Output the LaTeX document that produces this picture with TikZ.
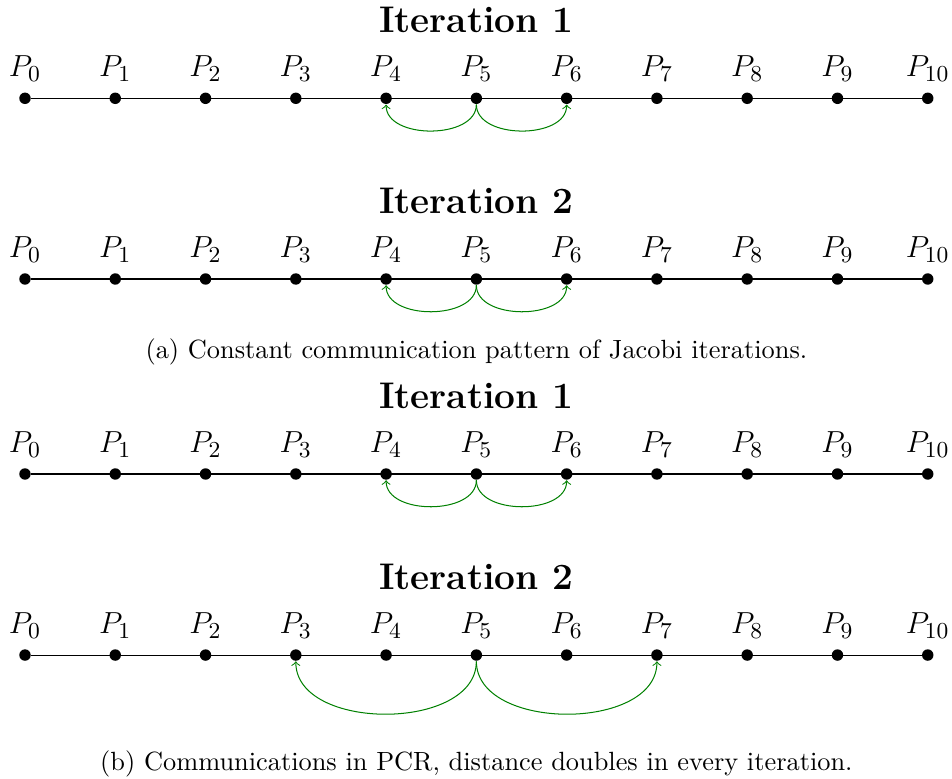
\documentclass[tikz,border=0pt]{standalone}

\begin{document}
\begin{tikzpicture}[proc/.style = {circle, fill, inner sep=0pt, minimum size=4.5pt},
		comm/.style = {->, green!50!black},
		title/.style = {font=\fontsize{14.6}{17}\selectfont\bfseries},
		caption/.style = {font=\fontsize{10.38}{12.5}\selectfont}]
	\useasboundingbox (-0.346,-9.412) rectangle (12.836,1.361);

	% processes of each iteration, one row per iteration
	\foreach \r/\y in {a/0, b/-2.502, c/-5.202, d/-7.709} {
		\foreach \i in {0,...,10}
			\node[proc, label={[inner sep=2pt, label distance=2pt, font=\fontsize{12.45}{15}\selectfont]above:$P_{\i}$}] (\r\i) at (1.25*\i,\y) {};
		\draw (\r0) -- (\r10);
	}

	\node[title] (ta) at (6.25,1.084) {Iteration 1};
	\node[title] (tb) at (6.25,-1.418) {Iteration 2};
	\node[title] (tc) at (6.25,-4.118) {Iteration 1};
	\node[title] (td) at (6.25,-6.625) {Iteration 2};

	% Jacobi: always the direct neighbours
	\draw[comm] (a5) to[out=-90, in=-90] (a4);
	\draw[comm] (a5) to[out=-90, in=-90] (a6);
	\draw[comm] (b5) to[out=-90, in=-90] (b4);
	\draw[comm] (b5) to[out=-90, in=-90] (b6);

	% PCR: the distance doubles
	\draw[comm] (c5) to[out=-90, in=-90] (c4);
	\draw[comm] (c5) to[out=-90, in=-90] (c6);
	\draw[comm] (d5) to[out=-90, in=-90] (d3);
	\draw[comm] (d5) to[out=-90, in=-90] (d7);

	\node[caption] (capa) at (6.25,-3.512) {(a) Constant communication pattern of Jacobi iterations.};
	\node[caption] (capb) at (6.25,-9.219) {(b) Communications in PCR, distance doubles in every iteration.};
\end{tikzpicture}
\end{document}
